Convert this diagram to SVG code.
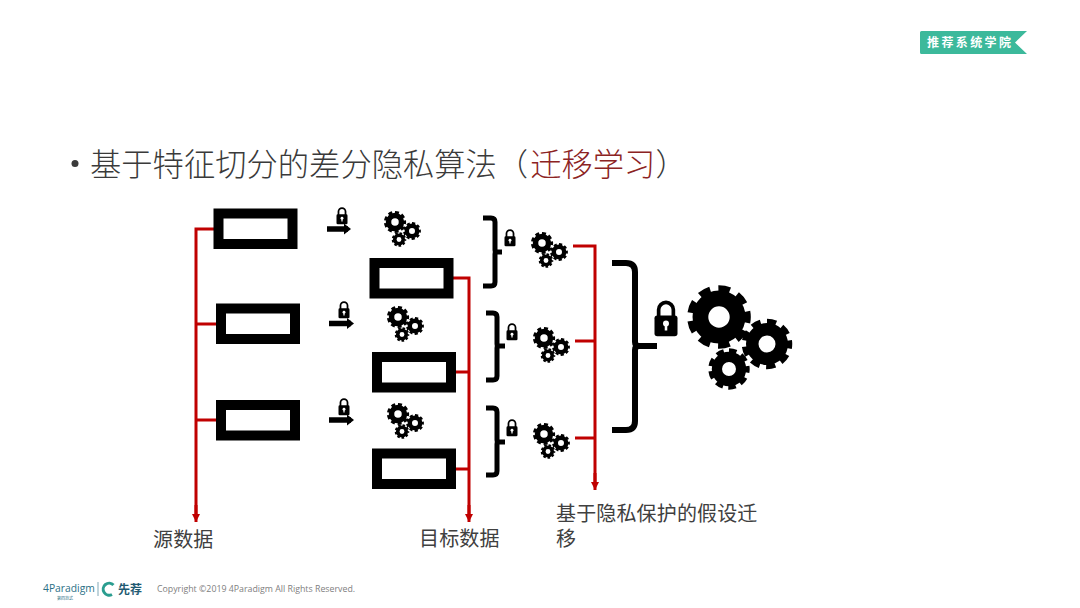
<svg xmlns="http://www.w3.org/2000/svg" xmlns:xlink="http://www.w3.org/1999/xlink" width="1080" height="608" viewBox="0 0 1080 608">
<style>
text{font-family:"Noto Sans CJK SC","Noto Sans",sans-serif}
.box{fill:#fff;stroke:#000;stroke-width:10}
.red{fill:none;stroke:#c00000;stroke-width:3}
.brace{fill:none;stroke:#000;stroke-width:5}
.label{font-size:20px;fill:#404040;letter-spacing:.15px}
.title{font-size:31.3px;fill:#3a3a3a;font-weight:300}
</style>
<defs>
<g id="gear">
<circle r="5.900" fill="none" stroke="#000" stroke-width="5"/>
<circle r="8.800" fill="none" stroke="#000" stroke-width="2.600" stroke-dasharray="3.600 2.544" stroke-dashoffset="1.800"/>
</g>
<g id="cluster">
<use xlink:href="#gear" href="#gear" transform="scale(1.1)"/>
<use xlink:href="#gear" href="#gear" transform="translate(17,9) scale(.88)"/>
<use xlink:href="#gear" href="#gear" transform="translate(4,17.500) scale(.72)"/>
</g>
<g id="lock">
<path d="M-3.200 -1V-4A3.200 3.200 0 0 1 3.200 -4V-1" fill="none" stroke="#000" stroke-width="1.600"/>
<rect x="-5" y="-1.500" width="10" height="9" rx="1.200" fill="#000"/>
<circle cy="2" r="1.300" fill="#fff"/>
<rect x="-.55" y="2" width="1.100" height="3" fill="#fff"/>
</g>
<marker id="redhead" markerWidth="9" markerHeight="8" refX="8" refY="4" orient="auto" markerUnits="userSpaceOnUse" viewBox="0 0 9 8"><path d="M0 0L8 4L0 8Z" fill="#c00000"/></marker>
<marker id="blackhead" markerWidth="8" markerHeight="11" refX="4" refY="5.500" orient="auto" markerUnits="userSpaceOnUse" viewBox="0 0 8 11"><path d="M0 0L7 5.500L0 11Z" fill="#000"/></marker>
</defs>
<rect width="1080" height="608" fill="#fff"/>

<g id="tag">
<path d="M921.500 31H1027L1015 42.500L1027 54H921.500Q920 54 920 52.500V32.500Q920 31 921.500 31Z" fill="#3cb99b"/>
<text x="927" y="47" font-size="12" font-weight="700" letter-spacing="2.400" fill="#fff">推荐系统学院</text>
</g>

<g id="title">
<circle cx="75" cy="163.500" r="3.500" fill="#3a3a3a"/>
<text class="title" x="90" y="176">基于特征切分的差分隐私算法（<tspan dx="2" fill="#8c2323">迁移学习</tspan>）</text>
</g>

<g id="connectors">
<path class="red" d="M214 229H196V516M216 324H196M216 420H196"/>
<path class="red" d="M196 505V522" marker-end="url(#redhead)"/>
<path class="red" d="M453 278H469V516M455 372H469M455 469H469"/>
<path class="red" d="M469 505V522" marker-end="url(#redhead)"/>
<path class="red" d="M573 246H595V484M575 341H595M575 438H595"/>
<path class="red" d="M595 473V490" marker-end="url(#redhead)"/>
<g fill="none" stroke="#000" stroke-width="5.500">
<path d="M327 229H348" marker-end="url(#blackhead)"/>
<path d="M329 323.500H351" marker-end="url(#blackhead)"/>
<path d="M329 420H351" marker-end="url(#blackhead)"/>
</g>
<path class="brace" d="M483 218H491Q495 218 495 222V250Q495 252 497 252H502M497 252Q495 252 495 254V282Q495 286 491 286H483"/>
<path class="brace" d="M486 313H493Q497 313 497 317V344Q497 346 499 346H505M499 346Q497 346 497 348V376Q497 380 493 380H486"/>
<path class="brace" d="M486 408H493Q497 408 497 412V440Q497 442 499 442H505M499 442Q497 442 497 444V471Q497 475 493 475H486"/>
<path d="M612 263H626Q635 263 635 272V342Q635 346 639 346H657M639 346Q635 346 635 350V421Q635 430 626 430H612" fill="none" stroke="#000" stroke-width="6"/>
</g>

<g id="source-1"><rect class="box" x="218.500" y="213.500" width="74" height="30.500"/></g>
<g id="source-2"><rect class="box" x="221" y="308.500" width="74" height="30.500"/></g>
<g id="source-3"><rect class="box" x="221" y="405" width="74" height="30.500"/></g>
<g id="target-1"><rect class="box" x="374.500" y="263" width="74" height="30.500"/></g>
<g id="target-2"><rect class="box" x="377" y="357" width="74" height="30.500"/></g>
<g id="target-3"><rect class="box" x="377" y="453.500" width="74" height="30.500"/></g>

<g id="locks">
<use xlink:href="#lock" href="#lock" transform="translate(342,216) scale(1.1)"/>
<use xlink:href="#lock" href="#lock" transform="translate(344,310) scale(1.1)"/>
<use xlink:href="#lock" href="#lock" transform="translate(344,407) scale(1.1)"/>
<use xlink:href="#lock" href="#lock" transform="translate(510,238) scale(1.1)"/>
<use xlink:href="#lock" href="#lock" transform="translate(512,332) scale(1.1)"/>
<use xlink:href="#lock" href="#lock" transform="translate(512,428) scale(1.1)"/>
<use xlink:href="#lock" href="#lock" transform="translate(666,319) scale(2.300)"/>
</g>

<g id="gears-small">
<use xlink:href="#cluster" href="#cluster" transform="translate(395,222)"/>
<use xlink:href="#cluster" href="#cluster" transform="translate(398,317)"/>
<use xlink:href="#cluster" href="#cluster" transform="translate(398,414)"/>
<use xlink:href="#cluster" href="#cluster" transform="translate(542,243)"/>
<use xlink:href="#cluster" href="#cluster" transform="translate(544,338)"/>
<use xlink:href="#cluster" href="#cluster" transform="translate(544,434)"/>
</g>
<g id="gears-large">
<use xlink:href="#gear" href="#gear" transform="translate(719,317) scale(3.150)"/>
<use xlink:href="#gear" href="#gear" transform="translate(767,344) scale(2.500)"/>
<use xlink:href="#gear" href="#gear" transform="translate(729,369) scale(2.050)"/>
</g>

<g id="labels">
<text class="label" x="153" y="547">源数据</text>
<text class="label" x="419" y="546">目标数据</text>
<text class="label" x="556" y="521">基于隐私保护的假设迁</text>
<text class="label" x="556" y="546">移</text>
</g>

<g id="footer">
<text x="43" y="592" font-size="10.300" fill="#2b6f86" style="font-family:'Open Sans',sans-serif">4Paradigm</text>
<text x="57" y="600" font-size="4" fill="#2b6f86">第四范式</text>
<path d="M98 582V596" stroke="#2b6f86" stroke-width=".6"/>
<path d="M112 594.500A6 6 0 1 1 113.500 585" fill="none" stroke="#2a9d8f" stroke-width="3"/>
<text x="118" y="594" font-size="12" font-weight="700" fill="#1f5a72">先荐</text>
<text x="157" y="592" font-size="8.800" fill="#808080" style="font-family:'Open Sans',sans-serif">Copyright ©2019 4Paradigm All Rights Reserved.</text>
</g>
</svg>
